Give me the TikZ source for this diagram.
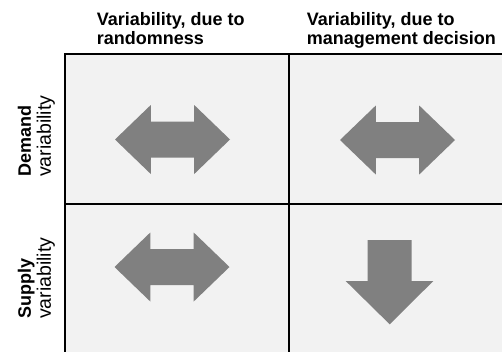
\documentclass[tikz,border=0pt]{standalone}
\usepackage{fontspec}
\setmainfont{Liberation Sans}
\definecolor{cellgray}{HTML}{F2F2F2}
\definecolor{arrowgray}{HTML}{808080}
\tikzset{
  cell/.style={fill=cellgray,draw=black,line width=1.3pt},
  blockarrow/.style={fill=arrowgray,draw=none},
  headtext/.style={font=\fontsize{18}{18.6}\selectfont\bfseries,align=left,inner sep=0pt,anchor=base west},
  sidetext/.style={font=\fontsize{19.5}{20}\selectfont,align=left,inner sep=0pt,rotate=90,anchor=west}
}
\begin{document}
\begin{tikzpicture}[x=1pt,y=-1pt]
    \useasboundingbox (0,0) rectangle (502,351);
    \begin{scope}
    \clip (0,0) rectangle (502,351);
    \draw[cell] (65,54) rectangle (289,204);
    \draw[cell] (289,54) rectangle (520,204);
    \draw[cell] (65,204) rectangle (289,370);
    \draw[cell] (289,204) rectangle (520,370);
    \end{scope}
    % double arrows
    \foreach \cx/\cy in {172.5/139.5, 397.5/140, 172/267}
      \fill[blockarrow,shift={(\cx,\cy)}] (-57.5,0) -- (-21.7,-34.5) -- (-21.7,-18) -- (21.7,-18)
        -- (21.7,-34.5) -- (57.5,0) -- (21.7,34.5) -- (21.7,18) -- (-21.7,18) -- (-21.7,34.5) -- cycle;
    % down arrow
    \fill[blockarrow] (367.7,240) -- (411.7,240) -- (411.7,281) -- (433.3,281) -- (389.7,324.3)
      -- (345.7,281) -- (367.7,281) -- cycle;
    \node[headtext] (random) at (96.7,44.3) {Variability, due to\\randomness};
    \node[headtext] (decision) at (306.7,44.3) {Variability, due to\\management decision};
    \node[sidetext] (demand) at (36.5,177) {{\fontsize{18}{20}\selectfont\bfseries Demand}\\variability};
    \node[sidetext] (supply) at (36.5,319) {{\fontsize{18}{20}\selectfont\bfseries Supply}\\variability};
\end{tikzpicture}
\end{document}
